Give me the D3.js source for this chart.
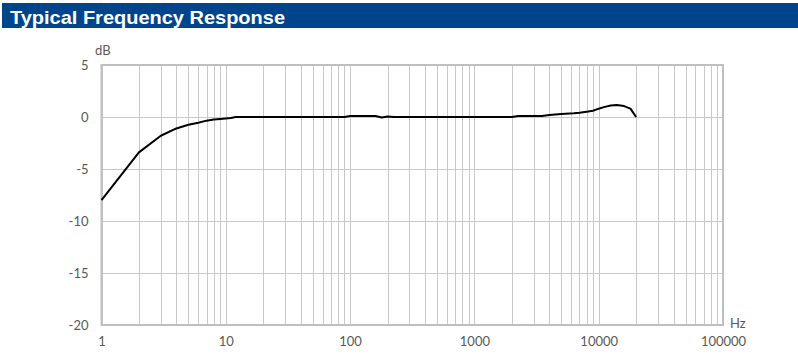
<!DOCTYPE html>
<html><head><meta charset="utf-8">
<script src="https://cdn.jsdelivr.net/npm/d3@7"></script>
<style>body{margin:0;background:#fff}svg{display:block}</style>
</head><body><svg id="c" width="798" height="361"></svg>
<script>
const title = "Typical Frequency Response";
const freqs = [1,2,3,4,5,6,7,8,9,10,11,12,20,50,90,100,160,180,200,225,500,1000,2000,2250,3000,3500,4000,5000,6300,7000,8000,9000,10000,11000,12500,14000,16000,18000,20000];
const dB    = [-8,-3.4,-1.8,-1.1,-0.75,-0.55,-0.35,-0.25,-0.2,-0.15,-0.1,0,0,0,0,0.1,0.1,-0.05,0.05,0,0,0,0,0.1,0.1,0.1,0.2,0.3,0.35,0.4,0.5,0.6,0.8,0.95,1.1,1.15,1.05,0.8,0];
const xTicks = [1,10,100,1000,10000,100000];
const xTickLabels = ["1","10","100","1000","10000","100000"];
const yTicks = [5,0,-5,-10,-15,-20];
const yUnit = "dB", xUnit = "Hz";

const svg = d3.select("#c");
const L=101.5, R=723, T=65, B=325;
const x = d3.scaleLog().domain([1,100000]).range([L,R]);
const y = d3.scaleLinear().domain([-20,5]).range([B,T]);
const font = "Lato, 'Open Sans', sans-serif";

// title bar
svg.append("rect").attr("x",2).attr("y",3).attr("width",796).attr("height",25).attr("fill","#00458C");
svg.append("text").attr("x",10).attr("y",23.5).text(title)
  .attr("fill","#fff").attr("font-family","'Liberation Sans', Arial, sans-serif")
  .attr("font-weight","bold").attr("font-size",19).attr("textLength",275).attr("lengthAdjust","spacingAndGlyphs");

// vertical grid (log minor)
const vgrid = [];
for (let d=1; d<100000; d*=10) for (let k=1;k<10;k++) vgrid.push(d*k);
vgrid.push(100000);
svg.append("g").selectAll("line").data(vgrid).join("line")
  .attr("x1",d=>Math.round(x(d))+0.5).attr("x2",d=>Math.round(x(d))+0.5)
  .attr("y1",T).attr("y2",B).attr("stroke","#c8c8c8").attr("stroke-width",1);
// horizontal grid
svg.append("g").selectAll("line").data(yTicks).join("line")
  .attr("x1",L).attr("x2",R).attr("y1",d=>Math.round(y(d))+0.5).attr("y2",d=>Math.round(y(d))+0.5)
  .attr("stroke","#c8c8c8").attr("stroke-width",1);
// frame
svg.append("rect").attr("x",L).attr("y",T).attr("width",R-L).attr("height",B-T)
  .attr("fill","none").attr("stroke","#bfbfbf").attr("stroke-width",2);

// axes labels via d3 axes
const ax = svg.append("g").attr("transform",`translate(0,${B})`)
  .call(d3.axisBottom(x).tickValues(xTicks).tickFormat((d,i)=>xTickLabels[i]).tickSize(0).tickPadding(12));
const ay = svg.append("g").attr("transform",`translate(${L},0)`)
  .call(d3.axisLeft(y).tickValues(yTicks).tickFormat(d=>String(d)).tickSize(0).tickPadding(13));
[ax,ay].forEach(g=>{g.select(".domain").remove();
  g.selectAll("text").attr("fill","#595959").attr("font-family",font).attr("font-size",13);});

svg.append("text").attr("x",95).attr("y",55).text(yUnit).attr("fill","#595959").attr("font-family",font).attr("font-size",13);
svg.append("text").attr("x",730).attr("y",328).text(xUnit).attr("fill","#595959").attr("font-family",font).attr("font-size",13);

// curve
const line = d3.line().x((d,i)=>x(freqs[i])).y(d=>y(d)).curve(d3.curveLinear);
svg.append("path").datum(dB).attr("d",line).attr("fill","none").attr("stroke","#000").attr("stroke-width",2).attr("stroke-linejoin","round");
</script></body></html>
